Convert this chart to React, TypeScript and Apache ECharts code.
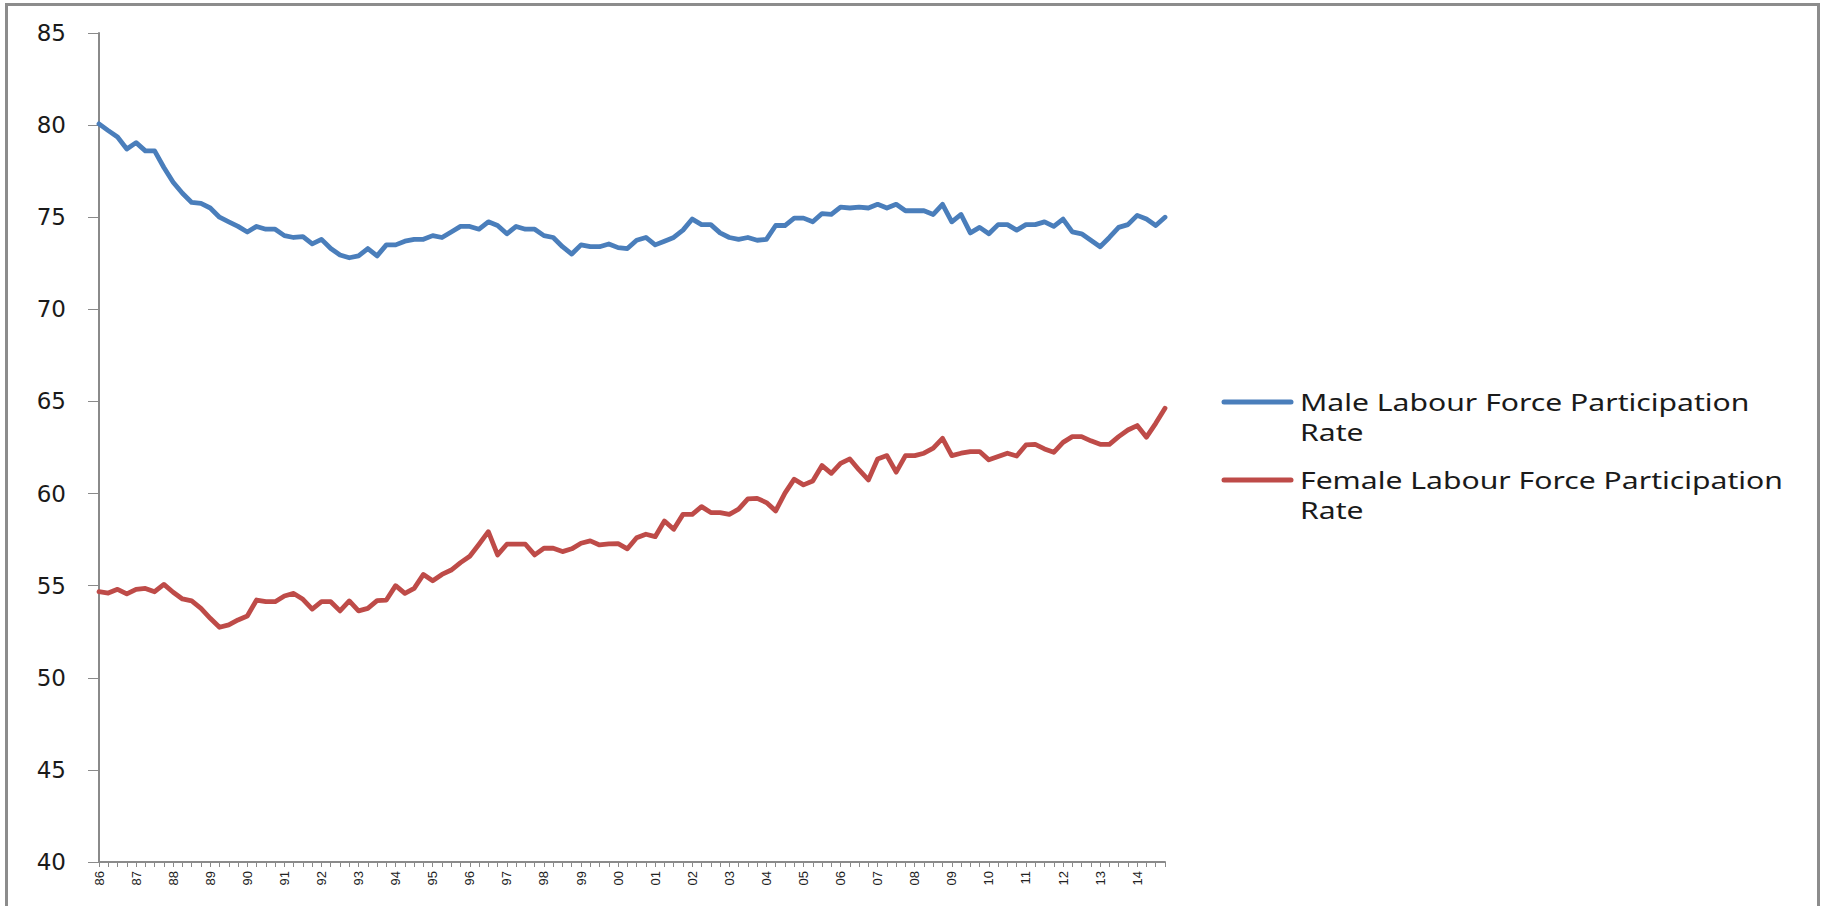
import React, { useEffect, useRef } from "react";
import * as echarts from "echarts";

const yearLabels = ["86","87","88","89","90","91","92","93","94","95","96","97","98","99","00","01","02","03","04","05","06","07","08","09","10","11","12","13","14"];
const quarterNames = ["Q1", "Q2", "Q3", "Q4"];

const maleRate = [
  80.07, 79.7, 79.35, 78.7, 79.05, 78.6, 78.6, 77.7, 76.9, 76.3, 75.8, 75.75, 75.5, 75.0, 74.75, 74.5, 74.2, 74.5, 74.35, 74.35,
  74.0, 73.9, 73.95, 73.55, 73.8, 73.3, 72.95, 72.8, 72.9, 73.3, 72.9, 73.5, 73.5, 73.7, 73.8, 73.8, 74.0, 73.9, 74.2, 74.5, 74.5,
  74.35, 74.75, 74.55, 74.1, 74.5, 74.35, 74.35, 74.0, 73.9, 73.4, 73.0, 73.5, 73.4, 73.4, 73.55, 73.35, 73.3, 73.75, 73.9, 73.5,
  73.7, 73.9, 74.3, 74.9, 74.6, 74.6, 74.15, 73.9, 73.8, 73.9, 73.75, 73.8, 74.55, 74.55, 74.95, 74.95, 74.75, 75.2, 75.15,
  75.55, 75.5, 75.55, 75.5, 75.7, 75.5, 75.7, 75.35, 75.35, 75.35, 75.15, 75.7, 74.75, 75.15, 74.15, 74.45, 74.1, 74.6, 74.6, 74.3,
  74.6, 74.6, 74.75, 74.5, 74.9, 74.2, 74.1, 73.75, 73.4, 73.9, 74.45, 74.6, 75.1, 74.9, 74.55, 75.0
];

const femaleRate = [
  54.67, 54.6, 54.8, 54.55, 54.8, 54.85, 54.67, 55.07, 54.64, 54.28, 54.17, 53.77, 53.23, 52.74, 52.87, 53.14, 53.35, 54.22, 54.13, 54.13,
  54.44, 54.58, 54.26, 53.73, 54.13, 54.13, 53.63, 54.17, 53.63, 53.77, 54.19, 54.22, 55.0, 54.58, 54.85, 55.61, 55.27, 55.61, 55.85, 56.25, 56.6,
  57.25, 57.93, 56.67, 57.25, 57.25, 57.25, 56.67, 57.03, 57.03, 56.85,
  57.0, 57.3, 57.43, 57.21, 57.27, 57.28, 57.0, 57.6, 57.79, 57.66,
  58.51, 58.06, 58.87, 58.87, 59.29, 58.97, 58.97, 58.87, 59.15, 59.71,
  59.74, 59.51, 59.06, 60.02, 60.78, 60.47, 60.68, 61.52, 61.1, 61.64,
  61.88, 61.28, 60.74, 61.88, 62.06, 61.16, 62.06, 62.06, 62.19, 62.46,
  63.0, 62.06, 62.19, 62.28, 62.28, 61.83, 62.01, 62.19, 62.04, 62.64,
  62.67, 62.42, 62.24, 62.78, 63.09, 63.09, 62.86, 62.67, 62.67, 63.09,
  63.45, 63.69, 63.06, 63.81, 64.63
];

const yTicks = { min: 40, max: 85, interval: 5 };
const maleName = "Male Labour Force Participation Rate";
const femaleName = "Female Labour Force Participation Rate";
const maleLegendText = "Male Labour Force Participation\nRate";
const femaleLegendText = "Female Labour Force Participation\nRate";
const maleColor = "#4A7EBB";
const femaleColor = "#BE4B48";

const categories = yearLabels.flatMap((y) => quarterNames.map((q) => `${y} ${q}`));

export default function App() {
  const ref = useRef<HTMLDivElement>(null);
  useEffect(() => {
    document.body.style.margin = "0";
    const chart = echarts.init(ref.current!, null, { renderer: "svg" });
    const legendText = (text: string, y: number) => ({
      type: "text",
      x: 1300,
      y: y - 15,
      scaleX: 1.31,
      scaleY: 1,
      originX: 0,
      style: {
        text,
        fontFamily: "Noto Sans",
        fontSize: 23,
        lineHeight: 30,
        fill: "#1a1a1a",
        verticalAlign: "top",
      },
    });
    const legendLine = (color: string, y: number) => ({
      type: "line",
      shape: { x1: 1224, y1: y, x2: 1291, y2: y },
      style: { stroke: color, lineWidth: 5, lineCap: "round" },
    });
    chart.setOption({
      animation: false,
      backgroundColor: "#ffffff",
      grid: { left: 99, right: 660, top: 33, bottom: 44, containLabel: false },
      xAxis: {
        type: "category",
        data: categories,
        boundaryGap: false,
        axisLine: { lineStyle: { color: "#8a8a8a", width: 2 } },
        axisTick: { show: true, interval: 0, length: 5, lineStyle: { color: "#8a8a8a", width: 1 } },
        axisLabel: {
          interval: (i: number) => i % 4 === 0,
          rotate: 90,
          margin: 9,
          fontFamily: "Liberation Sans",
          fontSize: 13,
          color: "#222222",
          formatter: (v: string) => v.split(" ")[0],
        },
        splitLine: { show: false },
      },
      yAxis: {
        type: "value",
        min: yTicks.min,
        max: yTicks.max,
        interval: yTicks.interval,
        axisLine: { show: true, lineStyle: { color: "#8a8a8a", width: 2 } },
        axisTick: { show: true, length: 11, lineStyle: { color: "#8a8a8a", width: 1 } },
        axisLabel: { margin: 33, fontFamily: "DejaVu Sans", fontSize: 23, color: "#1a1a1a" },
        splitLine: { show: false },
      },
      series: [
        {
          name: maleName,
          type: "line",
          data: maleRate,
          showSymbol: false,
          symbol: "none",
          lineStyle: { color: maleColor, width: 4.8, cap: "round", join: "round" },
          itemStyle: { color: maleColor },
        },
        {
          name: femaleName,
          type: "line",
          data: femaleRate,
          showSymbol: false,
          symbol: "none",
          lineStyle: { color: femaleColor, width: 4.8, cap: "round", join: "round" },
          itemStyle: { color: femaleColor },
        },
      ],
      graphic: [
        {
          type: "rect",
          shape: { x: 6.5, y: 4.5, width: 1812, height: 960 },
          style: { fill: "none", stroke: "#8c8c8c", lineWidth: 3 },
          silent: true,
        },
        legendLine(maleColor, 402),
        legendText(maleLegendText, 402),
        legendLine(femaleColor, 480),
        legendText(femaleLegendText, 480),
      ],
    });
    return () => chart.dispose();
  }, []);
  return <div ref={ref} style={{ width: 1825, height: 906 }} />;
}
